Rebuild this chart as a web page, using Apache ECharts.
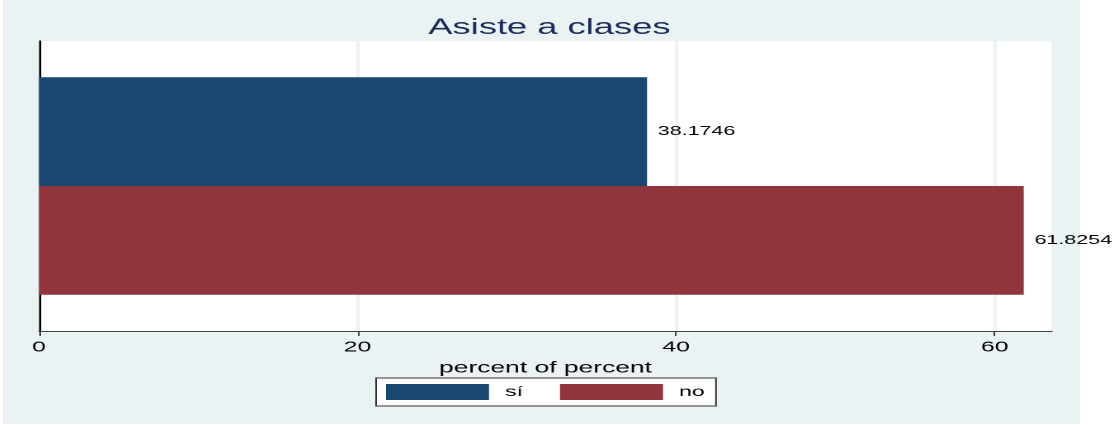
<!DOCTYPE html>
<html>
<head>
<meta charset="utf-8">
<script src="https://cdn.jsdelivr.net/npm/echarts@6/dist/echarts.min.js"></script>
<style>
  html, body { margin: 0; padding: 0; background: #ffffff; width: 1114px; height: 425px; overflow: hidden; }
  #bg { position: absolute; left: 3px; top: 0; width: 1077px; height: 424px; background: #EAF2F3; }
  #chart { position: absolute; left: 3px; top: 0; width: 673px; height: 424px; transform: scaleX(1.65082); transform-origin: 0 0; }
</style>
</head>
<body>
<div id="bg"></div>
<div id="chart"></div>
<script>
// Data
const categories = [''];
const seriesNames = ['sí', 'no'];
const siValues = [38.1746];
const noValues = [61.8254];
const xTicks = [0, 20, 40, 60];
const titleText = 'Asiste a clases';
const xAxisTitle = 'percent of percent';

const FONT = "'Liberation Sans', Arial, sans-serif";
const chart = echarts.init(document.getElementById('chart'), null, { renderer: 'canvas', devicePixelRatio: 2 });

const labelStyle = {
  show: true,
  position: 'right',
  distance: 6.5,
  color: '#000',
  fontSize: 13,
  fontFamily: FONT,
  formatter: function (p) { return p.value.toFixed(4); }
};

function legendFor(name, left) {
  return {
    data: [name],
    left: left,
    top: 378,
    orient: 'horizontal',
    selectedMode: false,
    icon: 'rect',
    itemWidth: 62.4,
    itemHeight: 16,
    padding: [6, 0, 6, 0],
    z: 10,
    textStyle: { fontSize: 14, color: '#000', fontFamily: FONT, padding: [0, 0, 0, 4.7] }
  };
}

chart.setOption({
  backgroundColor: 'transparent',
  animation: false,
  title: {
    text: titleText,
    left: 326,
    textAlign: 'center',
    top: 12,
    textStyle: { fontSize: 22, fontWeight: 'normal', color: '#1C2B5A', fontFamily: FONT }
  },
  graphic: [{
    type: 'rect',
    z: 1,
    shape: { x: 226, y: 378, width: 205.9, height: 28 },
    style: { fill: '#ffffff', stroke: '#333333', lineWidth: 1 }
  }],
  legend: [legendFor(seriesNames[0], 232.0), legendFor(seriesNames[1], 337.4)],
  grid: {
    left: 21.81,
    right: 37.56,
    top: 41,
    bottom: 93,
    show: true,
    backgroundColor: '#ffffff',
    borderWidth: 0
  },
  xAxis: {
    type: 'value',
    min: 0,
    max: 63.6,
    interval: 20,
    name: xAxisTitle,
    nameLocation: 'middle',
    nameGap: 22,
    nameTextStyle: { fontSize: 16, color: '#000', fontFamily: FONT },
    axisLine: { show: true, lineStyle: { color: '#444', width: 1 } },
    axisTick: { show: true, length: 5, lineStyle: { color: '#444', width: 1 } },
    axisLabel: {
      fontSize: 15, color: '#000', fontFamily: FONT, margin: 9,
      showMaxLabel: false,
      formatter: function (v) { return xTicks.indexOf(v) >= 0 ? String(v) : ''; }
    },
    splitLine: { show: true, lineStyle: { color: '#EAF2F3', width: 1.8 } }
  },
  yAxis: {
    type: 'category',
    data: categories,
    axisLine: { show: true, lineStyle: { color: '#000', width: 1.2 } },
    axisTick: { show: false },
    axisLabel: { show: false },
    splitLine: { show: false }
  },
  series: [
    {
      name: seriesNames[0],
      type: 'bar',
      data: siValues,
      barGap: '0%',
      barCategoryGap: '25%',
      itemStyle: { color: '#1A476F' },
      label: labelStyle
    },
    {
      name: seriesNames[1],
      type: 'bar',
      data: noValues,
      barGap: '0%',
      barCategoryGap: '25%',
      itemStyle: { color: '#90353B' },
      label: labelStyle
    }
  ]
});
</script>
</body>
</html>
